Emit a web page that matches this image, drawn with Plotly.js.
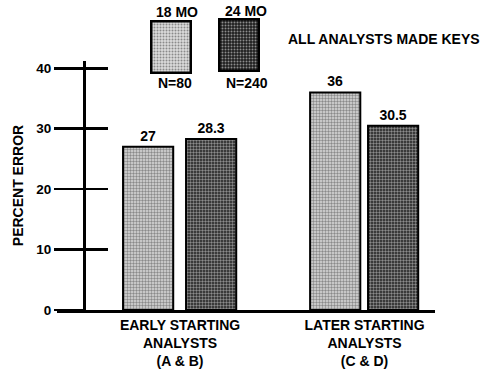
<!DOCTYPE html>
<html>
<head>
<meta charset="utf-8">
<script src="https://cdn.plot.ly/plotly-3.0.1.min.js"></script>
<style>
  html, body { margin: 0; padding: 0; background: #fff; }
  #chart { width: 480px; height: 378px; }
</style>
</head>
<body>
<div id="chart"></div>
<script>
// Groups of analysts on the horizontal axis
const groups = ['EARLY STARTING<br>ANALYSTS<br>(A &amp; B)', 'LATER STARTING<br>ANALYSTS<br>(C &amp; D)'];
// Series: experience level and sample size
const seriesNames = ['18 MO', '24 MO'];
const sampleSizes = ['N=80', 'N=240'];
// Percent error per group
const error18 = [27, 36];
const error24 = [28.3, 30.5];
// Y axis ticks
const yTicks = [0, 10, 20, 30, 40];
const yTickText = ['0', '10', '20', '30', '40'];
const headline = 'ALL ANALYSTS MADE KEYS';

const FONT = 'Liberation Sans, Arial, Helvetica, sans-serif';
const LIGHT = { bg: '#dcdcdc', fg: '#8a8a8a' };
const DARK = { bg: '#1e1e1e', fg: '#8c8c8c' };

function barTrace(name, values, shade, offset) {
  return {
    type: 'bar',
    name: name,
    x: groups,
    y: values,
    width: 0.272,
    offset: offset,
    marker: {
      color: shade.bg,
      line: { color: '#000', width: 2 },
      pattern: { shape: '.', bgcolor: shade.bg, fgcolor: shade.fg, size: 3, solidity: 0.5 }
    },
    text: values.map(String),
    textposition: 'outside',
    textfont: { family: FONT, size: 14, color: '#000', weight: 'bold' },
    cliponaxis: false,
    showlegend: false,
    hoverinfo: 'skip'
  };
}

// Stippled legend swatch drawn as an inline SVG
function swatch(shade) {
  const svg = "<svg xmlns='http://www.w3.org/2000/svg' width='42' height='54'>" +
    "<defs><pattern id='p' width='3' height='3' patternUnits='userSpaceOnUse'>" +
    "<rect width='3' height='3' fill='" + shade.bg + "'/>" +
    "<circle cx='1.5' cy='1.5' r='1' fill='" + shade.fg + "'/></pattern></defs>" +
    "<rect x='1.25' y='1.25' width='39.5' height='51.5' fill='url(#p)' stroke='#000' stroke-width='2.5'/></svg>";
  return 'data:image/svg+xml;charset=utf-8,' + encodeURIComponent(svg);
}

const W = 480, H = 378;
const L = 57, R = 45, T = 61, B = 68;
const pw = W - L - R, ph = H - T - B;
const px = v => (v - L) / pw;          // pixel x -> paper
const py = v => (H - B - v) / ph;      // pixel y -> paper

const data = [
  barTrace(seriesNames[0], error18, LIGHT, [-0.309, -0.295]),
  barTrace(seriesNames[1], error24, DARK, [0.0325, 0.019])
];
// inward half of the cross ticks on the value axis
data.push({ type: 'scatter', x: [], y: [], yaxis: 'y2', showlegend: false });

const axisPos = px(84);
const yRange = [0, 41.2];

const annFont = { family: FONT, size: 14, color: '#000', weight: 'bold' };
const annotations = [
  { text: seriesNames[0], x: px(177), y: py(12) },
  { text: seriesNames[1], x: px(246), y: py(11) },
  { text: sampleSizes[0], x: px(175), y: py(83) },
  { text: sampleSizes[1], x: px(247), y: py(83) },
  { text: headline, x: px(286), y: py(39), xanchor: 'left' }
].map(a => Object.assign({
  xref: 'paper', yref: 'paper', showarrow: false,
  xanchor: 'center', yanchor: 'middle', font: annFont
}, a));

const layout = {
  width: W, height: H,
  margin: { l: L, r: R, t: T, b: B, pad: 0 },
  paper_bgcolor: '#fff', plot_bgcolor: '#fff',
  font: { family: FONT, color: '#000' },
  barmode: 'group',
  xaxis: {
    type: 'category',
    range: [-0.667, 1.382],
    domain: [0, 1],
    showline: true, linewidth: 3, linecolor: '#000',
    ticks: '', showgrid: false, zeroline: false,
    tickfont: { family: FONT, size: 14, color: '#000', weight: 'bold' },
    fixedrange: true
  },
  yaxis: {
    range: yRange,
    anchor: 'free', position: axisPos,
    tickvals: yTicks, ticktext: yTickText,
    ticks: 'outside', ticklen: 29, tickwidth: 2.5, tickcolor: '#000',
    showline: true, linewidth: 2.5, linecolor: '#000',
    showgrid: false, zeroline: false,
    tickfont: { family: FONT, size: 13.5, color: '#000', weight: 'bold' },
    title: { text: 'PERCENT ERROR', font: { family: FONT, size: 14, color: '#000', weight: 'bold' }, standoff: 8 },
    fixedrange: true
  },
  yaxis2: {
    range: yRange, overlaying: 'y',
    anchor: 'free', position: axisPos,
    tickvals: yTicks.filter(v => v > 0),
    ticks: 'inside', ticklen: 23, tickwidth: 2.5, tickcolor: '#000',
    showticklabels: false, showline: false, showgrid: false, zeroline: false,
    fixedrange: true
  },
  images: [
    { source: swatch(LIGHT), xref: 'paper', yref: 'paper', x: px(150), y: py(20),
      sizex: 42 / pw, sizey: 54 / ph, sizing: 'stretch', xanchor: 'left', yanchor: 'top', layer: 'above' },
    { source: swatch(DARK), xref: 'paper', yref: 'paper', x: px(218), y: py(18),
      sizex: 42 / pw, sizey: 54 / ph, sizing: 'stretch', xanchor: 'left', yanchor: 'top', layer: 'above' }
  ],
  annotations: annotations,
  showlegend: false
};

Plotly.newPlot('chart', data, layout, { staticPlot: true, displayModeBar: false });
</script>
</body>
</html>
